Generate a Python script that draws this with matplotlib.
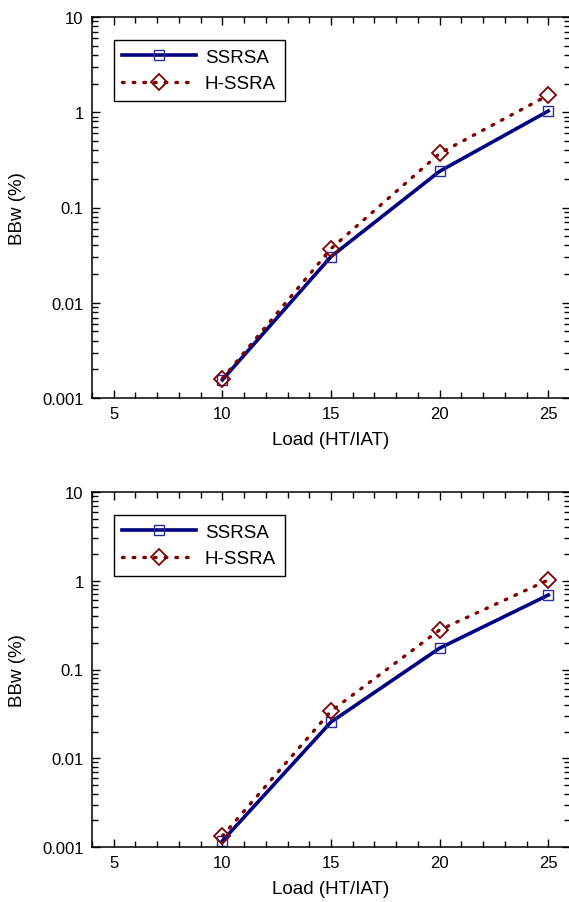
import matplotlib
matplotlib.use("Agg")
import matplotlib.pyplot as plt
from matplotlib.ticker import FixedLocator, LogLocator, NullFormatter, FixedFormatter

plt.rcParams['font.family'] = ['Liberation Sans', 'DejaVu Sans']

load = [10, 15, 20, 25]
top_ssrsa = [0.00155, 0.0305, 0.24, 1.03]
top_hssra = [0.0016, 0.037, 0.37, 1.51]
bot_ssrsa = [0.00117, 0.0256, 0.174, 0.69]
bot_hssra = [0.00133, 0.034, 0.279, 1.02]

series_names = ["SSRSA", "H-SSRA"]
x_ticks = [5, 10, 15, 20, 25]
x_minor = [4, 6, 7, 8, 9, 11, 12, 13, 14, 16, 17, 18, 19, 21, 22, 23, 24, 26]
y_ticks = [0.001, 0.01, 0.1, 1, 10]
y_tick_labels = ["0.001", "0.01", "0.1", "1", "10"]
x_label = "Load (HT/IAT)"
y_label = "BBw (%)"

W, H = 569, 903
fig = plt.figure(figsize=(W / 100, H / 100), dpi=100)

def make_axes(top_px, bot_px):
    left = 92 / W
    right = 570 / W
    return fig.add_axes([left, 1 - bot_px / H, right - left, (bot_px - top_px) / H])

panels = [
    (make_axes(18, 399), top_ssrsa, top_hssra, 381),
    (make_axes(493, 848), bot_ssrsa, bot_hssra, 355),
]

for ax, s1, s2, hpx in panels:
    ax.plot(load, s1, color='#000080', lw=2.6, marker='s', markersize=7.5,
            markerfacecolor='none', markeredgecolor='#2a2aa0', markeredgewidth=1.0,
            label=series_names[0])
    ax.plot(load, s2, color='#800000', lw=2.4, linestyle=(0, (0.5, 2.7)),
            dash_capstyle='round', marker='D', markersize=8.5,
            markerfacecolor='none', markeredgecolor='#800000', markeredgewidth=1.3,
            label=series_names[1])
    ax.set_yscale('log')
    ax.set_xlim(4, 26)
    ax.set_ylim(0.001, 10)
    ax.xaxis.set_major_locator(FixedLocator(x_ticks))
    ax.xaxis.set_minor_locator(FixedLocator(x_minor))
    ax.yaxis.set_major_locator(FixedLocator(y_ticks))
    ax.yaxis.set_major_formatter(FixedFormatter(y_tick_labels))
    ax.yaxis.set_minor_locator(LogLocator(base=10, subs=[2, 3, 4, 5, 6, 7, 8, 9]))
    ax.yaxis.set_minor_formatter(NullFormatter())
    ax.tick_params(which='both', direction='in', top=True, right=True, bottom=True,
                   left=True, labelsize=12, width=1.0, pad=6)
    ax.tick_params(which='major', length=6)
    ax.tick_params(which='minor', length=4)
    for sp in ax.spines.values():
        sp.set_linewidth(1.1)
    ax.set_xlabel(x_label, fontsize=13.5, labelpad=7)
    ax.set_ylabel(y_label, fontsize=13.5, labelpad=12)
    leg = ax.legend(loc='upper left', bbox_to_anchor=(22 / 478, 1 - 23 / hpx),
                    borderaxespad=0, fontsize=13.5,
                    frameon=True, fancybox=False, edgecolor='black', framealpha=1,
                    handlelength=3.9, borderpad=0.45, labelspacing=0.5, handletextpad=0.5)
    leg.get_frame().set_linewidth(1.0)

fig.savefig("out.png", dpi=100)
